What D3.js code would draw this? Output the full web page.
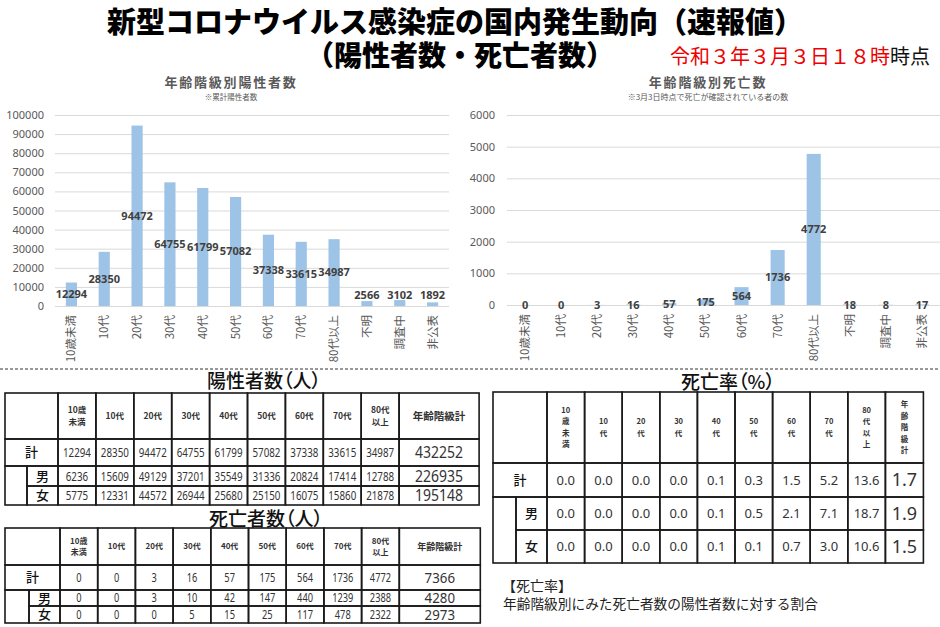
<!DOCTYPE html>
<html>
<head>
<meta charset="utf-8">
<script src="https://cdn.jsdelivr.net/npm/d3@7"></script>
<style>
body { margin: 0; background: #fff; }
svg { display: block; font-family: "Noto Sans CJK JP", "Noto Sans", sans-serif; }
</style>
</head>
<body>
<svg id="chart"></svg>
<script>
// Chart categories and values
let chartCats = ['10歳未満', '10代', '20代', '30代', '40代', '50代', '60代', '70代', '80代以上', '不明', '調査中', '非公表']
let chartPositives = [12294, 28350, 94472, 64755, 61799, 57082, 37338, 33615, 34987, 2566, 3102, 1892]
let chartDeaths = [0, 0, 3, 16, 57, 175, 564, 1736, 4772, 18, 8, 17]
let posTicks = [0, 10000, 20000, 30000, 40000, 50000, 60000, 70000, 80000, 90000, 100000]
let deathTicks = [0, 1000, 2000, 3000, 4000, 5000, 6000]

// Table headers and rows
let tableHeaders = [['10歳', '未満'], ['10代'], ['20代'], ['30代'], ['40代'], ['50代'], ['60代'], ['70代'], ['80代', '以上'], ['年齢階級計']]
let rateHeaders = [['10', '歳', '未', '満'], ['10', '代'], ['20', '代'], ['30', '代'], ['40', '代'], ['50', '代'],
                   ['60', '代'], ['70', '代'], ['80', '代', '以', '上'], ['年', '齢', '階', '級', '計']]
let rowLabels = ['計', '男', '女']

let posTotal = [12294, 28350, 94472, 64755, 61799, 57082, 37338, 33615, 34987]
let posMale = [6236, 15609, 49129, 37201, 35549, 31336, 20824, 17414, 12788]
let posFemale = [5775, 12331, 44572, 26944, 25680, 25150, 16075, 15860, 21878]
let posSums = [432252, 226935, 195148]

let deathTotal = [0, 0, 3, 16, 57, 175, 564, 1736, 4772]
let deathMale = [0, 0, 3, 10, 42, 147, 440, 1239, 2388]
let deathFemale = [0, 0, 0, 5, 15, 25, 117, 478, 2322]
let deathSums = [7366, 4280, 2973]

let rateTotal = [0.0, 0.0, 0.0, 0.0, 0.1, 0.3, 1.5, 5.2, 13.6]
let rateMale = [0.0, 0.0, 0.0, 0.0, 0.1, 0.5, 2.1, 7.1, 18.7]
let rateFemale = [0.0, 0.0, 0.0, 0.0, 0.1, 0.1, 0.7, 3.0, 10.6]
let rateSums = [1.7, 1.9, 1.5]

let width = 940
let height = 627
let barColor = '#9dc3e6'
let numFont = '"Noto Sans", sans-serif'

let svg = d3.select('#chart')
            .attr('width', width)
            .attr('height', height)

// Page titles
function drawTitles() {
    svg.append('text')
        .attr('x', 455).attr('y', 33)
        .attr('text-anchor', 'middle')
        .style('font-size', '29px').style('font-weight', 900)
        .text('新型コロナウイルス感染症の国内発生動向（速報値）')
    svg.append('text')
        .attr('x', 460).attr('y', 66)
        .attr('text-anchor', 'middle')
        .style('font-size', '28px').style('font-weight', 900)
        .text('（陽性者数・死亡者数）')
    let stamp = svg.append('text')
        .attr('x', 670).attr('y', 64)
        .style('font-size', '20px')
    stamp.append('tspan').attr('fill', '#ee0000').text('令和３年３月３日１８時')
    stamp.append('tspan').attr('fill', '#111').text('時点')

    svg.append('line')
        .attr('x1', 0).attr('x2', width)
        .attr('y1', 369).attr('y2', 369)
        .attr('stroke', '#333').attr('stroke-dasharray', '3,2')
}

// Bar chart with gridlines, rotated category labels and value labels
function drawBarChart(cfg) {
    let xScale = d3.scaleBand()
        .domain(chartCats)
        .range([cfg.left, cfg.right])
        .paddingInner(cfg.pad)
        .paddingOuter(cfg.pad / 2)
    let yScale = d3.scaleLinear()
        .domain([0, cfg.max])
        .range([cfg.bottom, cfg.top])

    let g = svg.append('g')

    g.append('text')
        .attr('x', cfg.titleX).attr('y', 87)
        .attr('text-anchor', 'middle')
        .attr('fill', '#595959')
        .style('font-size', '13px').style('font-weight', 700).style('letter-spacing', '1.8px')
        .text(cfg.title)
    g.append('text')
        .attr('x', cfg.titleX).attr('y', 100)
        .attr('text-anchor', 'middle')
        .attr('fill', '#595959')
        .style('font-size', cfg.subSize + 'px')
        .text(cfg.subtitle)

    let yAxis = d3.axisLeft(yScale)
        .tickValues(cfg.ticks)
        .tickSize(-(cfg.right - cfg.left))
        .tickPadding(cfg.tickGap)
        .tickFormat(d3.format('d'))
    g.append('g')
        .attr('transform', 'translate(' + cfg.left + ',0)')
        .call(yAxis)
        .call(a => a.select('.domain').remove())
        .call(a => a.selectAll('line').attr('stroke', '#d9d9d9'))
        .call(a => a.selectAll('text')
            .attr('fill', '#595959')
            .style('font-size', '11px')
            .style('font-family', '"Noto Sans", sans-serif'))

    g.selectAll('rect.bar')
        .data(cfg.values)
        .enter()
        .append('rect')
        .attr('class', 'bar')
        .attr('x', (d, i) => xScale(chartCats[i]))
        .attr('width', xScale.bandwidth())
        .attr('y', d => yScale(d))
        .attr('height', d => yScale(0) - yScale(d))
        .attr('fill', barColor)

    g.selectAll('text.cat')
        .data(chartCats)
        .enter()
        .append('text')
        .attr('class', 'cat')
        .attr('transform', d => 'translate(' + (xScale(d) + xScale.bandwidth() / 2) + ',' + (yScale(0) + 9) + ') rotate(-90)')
        .attr('dy', '0.35em')
        .attr('text-anchor', 'end')
        .attr('fill', '#595959')
        .style('font-size', '11.5px')
        .text(d => d)

    g.selectAll('text.val')
        .data(cfg.values)
        .enter()
        .append('text')
        .attr('class', 'val')
        .attr('x', (d, i) => xScale(chartCats[i]) + xScale.bandwidth() / 2)
        .attr('y', d => Math.min((yScale(d) + yScale(0)) / 2, yScale(0) - cfg.labelLift))
        .attr('dy', '0.35em')
        .attr('text-anchor', 'middle')
        .attr('fill', '#404040')
        .style('font-size', '11px').style('font-weight', 700)
        .style('font-family', '"Noto Sans", sans-serif')
        .text(d => d)
}

// Table with merged label column for 男/女 rows
function drawTable(cfg) {
    let colW = [cfg.labelW].concat(d3.range(9).map(() => cfg.colW), [cfg.totalW])
    let xs = [cfg.x0].concat(Array.from(d3.cumsum(colW), v => cfg.x0 + v))
    let ys = [cfg.top].concat(Array.from(d3.cumsum(cfg.rowH), v => cfg.top + v))
    let g = svg.append('g')

    g.append('text')
        .attr('x', cfg.titleX).attr('y', cfg.titleY)
        .attr('text-anchor', 'middle').attr('dy', '0.35em')
        .style('font-size', '19px').style('font-weight', 500)
        .style('font-feature-settings', '"palt"')
        .attr('fill', '#111')
        .text(cfg.title)

    let cells = []
    for (let r = 0; r < 4; r++) {
        for (let c = 0; c < 11; c++) {
            let x1 = xs[c]
            if (c === 0 && r >= 2) x1 = cfg.subX
            cells.push({x: x1, y: ys[r], w: xs[c + 1] - x1, h: ys[r + 1] - ys[r]})
        }
    }
    cells.push({x: cfg.x0, y: ys[2], w: cfg.subX - cfg.x0, h: ys[4] - ys[2]})

    g.selectAll('rect')
        .data(cells)
        .enter()
        .append('rect')
        .attr('x', d => d.x).attr('y', d => d.y)
        .attr('width', d => d.w).attr('height', d => d.h)
        .attr('fill', 'none')
        .attr('stroke', '#1a1a1a').attr('stroke-width', 1.6)

    // header labels
    cfg.headers.forEach((lines, i) => {
        let cx = (xs[i + 1] + xs[i + 2]) / 2
        let cy = (ys[0] + ys[1]) / 2
        let big = i === 9 && !cfg.vertical
        let lh = cfg.headLine
        lines.forEach((t, k) => {
            g.append('text')
                .attr('x', cx)
                .attr('y', cy + (k - (lines.length - 1) / 2) * lh)
                .attr('dy', '0.35em')
                .attr('text-anchor', 'middle')
                .attr('fill', '#333')
                .style('font-size', (big ? cfg.headTotalSize : cfg.headSize) + 'px')
                .style('font-weight', 700)
                .text(t)
        })
    })

    // squeeze digits to the narrow look of the original
    function fit(sel, perChar) {
        if (!perChar) return
        sel.attr('textLength', String(sel.text()).length * perChar)
           .attr('lengthAdjust', 'spacingAndGlyphs')
    }

    // rows
    cfg.rows.forEach((vals, r) => {
        let cy = (ys[r + 1] + ys[r + 2]) / 2
        let lx = r === 0 ? (cfg.x0 + xs[1]) / 2 : (cfg.subX + xs[1]) / 2
        g.append('text')
            .attr('x', lx).attr('y', cy).attr('dy', '0.36em')
            .attr('text-anchor', 'middle')
            .attr('fill', '#111')
            .style('font-size', '13px').style('font-weight', 500)
            .text(rowLabels[r])
        vals.forEach((v, c) => {
            let t = g.append('text')
                .attr('x', (xs[c + 1] + xs[c + 2]) / 2).attr('y', cy).attr('dy', '0.36em')
                .attr('text-anchor', 'middle')
                .attr('fill', '#333')
                .style('font-size', cfg.valSize + 'px')
                .style('font-family', numFont)
                .text(cfg.fmt(v))
            fit(t, cfg.valChar)
        })
        let s = g.append('text')
            .attr('x', (xs[10] + xs[11]) / 2).attr('y', cy).attr('dy', '0.36em')
            .attr('text-anchor', 'middle')
            .attr('fill', '#333')
            .style('font-size', cfg.sumSize + 'px')
            .style('font-family', numFont)
            .text(cfg.fmt(cfg.sums[r]))
        fit(s, cfg.sumChar)
    })
}

function drawNote() {
    svg.append('text')
        .attr('x', 502).attr('y', 591)
        .attr('fill', '#222')
        .style('font-size', '14px')
        .text('【死亡率】')
    svg.append('text')
        .attr('x', 503).attr('y', 609)
        .attr('fill', '#222')
        .style('font-size', '13.7px')
        .text('年齢階級別にみた死亡者数の陽性者数に対する割合')
}

// Run pipeline
drawTitles()

drawBarChart({
    title: '年齢階級別陽性者数', subtitle: '※累計陽性者数', titleX: 231, subSize: 7.5,
    values: chartPositives, ticks: posTicks, max: 100000,
    left: 55, right: 449, top: 115, bottom: 306, pad: 0.66, tickGap: 11, labelLift: 11
})

drawBarChart({
    title: '年齢階級別死亡数', subtitle: '※3月3日時点で死亡が確認されている者の数', titleX: 708, subSize: 8,
    values: chartDeaths, ticks: deathTicks, max: 6000,
    left: 507, right: 940, top: 115, bottom: 305, pad: 0.61, tickGap: 12, labelLift: -2
})

drawTable({
    title: '陽性者数（人）', titleX: 264, titleY: 381,
    x0: 5, top: 393, labelW: 53, colW: 37.9, totalW: 80, rowH: [46, 27, 20, 19], subX: 27,
    headers: tableHeaders, headSize: 8.5, headTotalSize: 10.5, headLine: 12,
    rows: [posTotal, posMale, posFemale], sums: posSums,
    valSize: 13, valChar: 5.6, sumSize: 16, sumChar: 8, fmt: d => d
})

drawTable({
    title: '死亡者数（人）', titleX: 266, titleY: 519,
    x0: 5, top: 528, labelW: 55, colW: 37.7, totalW: 81, rowH: [37, 25, 16, 17], subX: 29,
    headers: tableHeaders, headSize: 8, headTotalSize: 9, headLine: 11,
    rows: [deathTotal, deathMale, deathFemale], sums: deathSums,
    valSize: 12, valChar: 5.3, sumSize: 15, sumChar: 7.6, fmt: d => d
})

drawTable({
    title: '死亡率（%）', titleX: 728, titleY: 382,
    x0: 493, top: 392, labelW: 54, colW: 37.6, totalW: 38, rowH: [71, 34, 33, 33], subX: 516,
    headers: rateHeaders, headSize: 7.5, headTotalSize: 7.5, headLine: 11.5, vertical: true,
    rows: [rateTotal, rateMale, rateFemale], sums: rateSums,
    valSize: 13, sumSize: 18, fmt: d3.format('.1f')
})

drawNote()
</script>
</body>
</html>
